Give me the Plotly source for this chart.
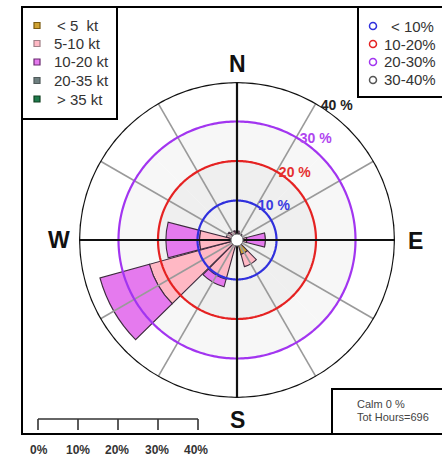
import numpy as np
import plotly.graph_objects as go

W, H = 442, 458

# ---------------- data ----------------
directions = [0, 30, 60, 90, 120, 150, 180, 210, 240, 270, 300, 330]
speed_bins = ["< 5  kt", "5-10 kt", "10-20 kt", "20-35 kt", "> 35 kt"]
freq_lt5 = [0.8, 0.7, 0.6, 0.8, 0.6, 3.8, 0.7, 1.0, 1.0, 0.8, 0.8, 0.8]
freq_5_10 = [1.5, 1.1, 0.6, 1.7, 0.3, 3.2, 0.6, 9.3, 22.0, 8.7, 2.0, 1.6]
freq_10_20 = [0, 0, 0, 4.7, 0, 0, 0, 2.0, 13.0, 8.5, 0, 0]
freq_20_35 = [0, 0, 0, 0, 0, 0, 0, 0, 0, 0, 0, 0]
freq_gt35 = [0, 0, 0, 0, 0, 0, 0, 0, 0, 0, 0, 0]
bin_colors = ["#cfa233", "#ffb8c4", "#e57aee", "#6e7f80", "#1f7a4c"]
bin_marker_edge = ["#7a5a10", "#a08088", "#6a2a70", "#505a5a", "#104020"]

ring_levels = [10, 20, 30, 40]
ring_labels = ["10 %", "20 %", "30 %", "40 %"]
ring_colors = ["#3030dd", "#e52222", "#a235f0", "#111111"]
ring_text_colors = ["#3a3ae0", "#e53030", "#b045f0", "#222222"]
ring_legend = ["< 10%", "10-20%", "20-30%", "30-40%"]
ring_fill_levels = [30, 20]
ring_fill_colors = ["#f7f7f7", "#efefef"]

cardinals = ["N", "E", "S", "W"]
scale_labels = ["0%", "10%", "20%", "30%", "40%"]
calm_lines = ["Calm 0 %", "Tot Hours=696"]

series = [freq_lt5, freq_5_10, freq_10_20, freq_20_35, freq_gt35]

# ---------------- figure ----------------
fig = go.Figure()

def px(x):
    return x / W

def py(y):
    return 1 - y / H

# background disks (under bars)
for lev, col in zip(ring_fill_levels, ring_fill_colors):
    fig.add_trace(go.Barpolar(
        r=[lev] * 4, theta=[0, 90, 180, 270], width=[90] * 4, base=[0] * 4,
        marker=dict(color=col, line=dict(width=0)), hoverinfo="skip"))

# stacked bars
base = np.zeros(len(directions))
for name, vals, col, in zip(speed_bins, series, bin_colors):
    vals = np.array(vals, dtype=float)
    keep = vals > 0
    if keep.any():
        fig.add_trace(go.Barpolar(
            r=vals[keep], base=base[keep], theta=np.array(directions)[keep],
            width=[29] * int(keep.sum()), name=name,
            marker=dict(color=col, line=dict(color="#3d2b3d", width=1.1))))
    base = base + vals

# spokes
gray_r, gray_t, black_r, black_t = [], [], [], []
for d in directions:
    if d % 90 == 0:
        black_r += [0, 40, None]
        black_t += [d, d, None]
    else:
        gray_r += [0, 40, None]
        gray_t += [d, d, None]
fig.add_trace(go.Scatterpolar(r=gray_r, theta=gray_t, mode="lines",
                              line=dict(color="#9a9a9a", width=1.6), hoverinfo="skip"))

# rings
circ_t = np.linspace(0, 360, 361)
for lev, col in zip(ring_levels, ring_colors):
    fig.add_trace(go.Scatterpolar(r=[lev] * len(circ_t), theta=circ_t, mode="lines",
                                  line=dict(color=col, width=2.2 if lev < 40 else 2.6),
                                  hoverinfo="skip"))
fig.add_trace(go.Scatterpolar(r=black_r, theta=black_t, mode="lines",
                              line=dict(color="#111111", width=2.2), hoverinfo="skip"))

# ring labels
fig.add_trace(go.Scatterpolar(
    r=ring_levels, theta=[32] * 4, mode="text",
    text=["<b>%s</b>" % t for t in ring_labels],
    textposition="middle right", cliponaxis=False,
    textfont=dict(family="Liberation Sans, Arial", size=14, color=ring_text_colors),
    hoverinfo="skip"))

# center hole
fig.add_trace(go.Scatterpolar(r=[0], theta=[0], mode="markers", cliponaxis=False,
                              marker=dict(size=12, color="white",
                                          line=dict(color="#777777", width=1)),
                              hoverinfo="skip"))

cx, cy, R = 237, 240, 158
fig.update_layout(
    width=W, height=H, margin=dict(l=0, r=0, t=0, b=0),
    paper_bgcolor="white", plot_bgcolor="white", showlegend=False,
    polar=dict(
        domain=dict(x=[px(cx - R), px(cx + R)], y=[py(cy + R), py(cy - R)]),
        bgcolor="rgba(0,0,0,0)", barmode="overlay", hole=0,
        angularaxis=dict(rotation=90, direction="clockwise", visible=False),
        radialaxis=dict(range=[0, 40], visible=False),
    ),
)

shapes = []
ann = []
FONT = "Liberation Sans, Arial"

# outer frame and boxes
shapes.append(dict(type="rect", xref="paper", yref="paper", x0=px(22), x1=px(470),
                   y0=py(434), y1=py(7), line=dict(color="black", width=2)))
shapes.append(dict(type="rect", xref="paper", yref="paper", x0=px(22), x1=px(117),
                   y0=py(119), y1=py(7), line=dict(color="black", width=2), fillcolor="white"))
shapes.append(dict(type="rect", xref="paper", yref="paper", x0=px(358), x1=px(470),
                   y0=py(97), y1=py(7), line=dict(color="black", width=2), fillcolor="white"))
shapes.append(dict(type="rect", xref="paper", yref="paper", x0=px(332), x1=px(470),
                   y0=py(434), y1=py(389), line=dict(color="black", width=2), fillcolor="white"))

# speed legend
rows1 = [25.5, 43.5, 62, 80.5, 99]
text_x1 = [55, 52, 52, 52, 55]
for i, (lab, col, edge) in enumerate(zip(speed_bins, bin_colors, bin_marker_edge)):
    y = rows1[i]
    shapes.append(dict(type="rect", xref="paper", yref="paper",
                       x0=px(34), x1=px(40), y0=py(y + 3), y1=py(y - 3),
                       fillcolor=col, line=dict(color=edge, width=1.2)))
    ann.append(dict(x=px(text_x1[i]), y=py(y), xref="paper", yref="paper", text=lab,
                    showarrow=False, xanchor="left", yanchor="middle",
                    font=dict(family=FONT, size=15, color="#333333")))

# ring legend
rows2 = [26, 44, 62, 80]
text_x2 = [389, 382, 382, 382]
for i, (lab, col) in enumerate(zip(ring_legend, ring_colors)):
    y = rows2[i]
    shapes.append(dict(type="circle", xref="paper", yref="paper",
                       x0=px(369.5), x1=px(376.5), y0=py(y + 3.5), y1=py(y - 3.5),
                       line=dict(color=col if i < 3 else "#555555", width=1.5)))
    ann.append(dict(x=px(text_x2[i]), y=py(y), xref="paper", yref="paper", text=lab,
                    showarrow=False, xanchor="left", yanchor="middle",
                    font=dict(family=FONT, size=15, color="#333333")))

# cardinal labels
card_pos = {"N": (237.5, 63.5), "E": (415.5, 240.5), "S": (237, 420), "W": (59, 240)}
for c in cardinals:
    x, y = card_pos[c]
    ann.append(dict(x=px(x), y=py(y), xref="paper", yref="paper", text="<b>%s</b>" % c,
                    showarrow=False, xanchor="center", yanchor="middle",
                    font=dict(family=FONT, size=23, color="#111111")))

# scale bar
sx0, sx1, sy = 38, 198, 419
shapes.append(dict(type="line", xref="paper", yref="paper", x0=px(sx0), x1=px(sx1),
                   y0=py(sy), y1=py(sy), line=dict(color="#333333", width=1.6)))
lab_x = [39, 78, 117, 157, 196]
for i, lab in enumerate(scale_labels):
    tx = sx0 + (sx1 - sx0) * i / (len(scale_labels) - 1)
    shapes.append(dict(type="line", xref="paper", yref="paper", x0=px(tx), x1=px(tx),
                       y0=py(sy), y1=py(430), line=dict(color="#333333", width=1.6)))
    ann.append(dict(x=px(lab_x[i]), y=py(450), xref="paper", yref="paper",
                    text="<b>%s</b>" % lab, showarrow=False, xanchor="center",
                    yanchor="middle", font=dict(family=FONT, size=12, color="#333333")))

# calm text
for i, t in enumerate(calm_lines):
    ann.append(dict(x=px(355), y=py(403.5 + 13 * i), xref="paper", yref="paper", text=t,
                    showarrow=False, xanchor="left", yanchor="middle",
                    font=dict(family=FONT, size=11, color="#444444")))

fig.update_layout(shapes=shapes, annotations=ann)

fig.write_html("out.html", config={"displayModeBar": False},
               post_script="document.body.style.margin='0';")
